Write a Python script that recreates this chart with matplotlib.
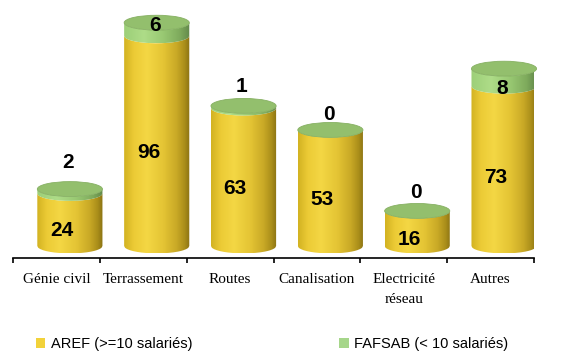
import numpy as np
import matplotlib.pyplot as plt
from matplotlib.path import Path
from matplotlib.patches import PathPatch, Ellipse, Patch
from matplotlib.colors import LinearSegmentedColormap

categories = ["Génie civil", "Terrassement", "Routes", "Canalisation",
              "Electricité\nréseau", "Autres"]
aref = [24, 96, 63, 53, 16, 73]
fafsab = [2, 6, 1, 0, 0, 8]
series_labels = ["AREF (>=10 salariés)", "FAFSAB (< 10 salariés)"]

# décalage (points) des étiquettes FAFSAB par rapport au sommet des cylindres
fafsab_dy = [19, -2, 14, 11, 13, -14]

yellow_cmap = LinearSegmentedColormap.from_list(
    "jaune", [(0, "#D2B222"), (0.15, "#ECCB36"), (0.35, "#F4D744"),
              (0.6, "#E4C434"), (0.8, "#C9A926"), (0.92, "#AA8E1A"),
              (1, "#8A7214")])
green_cmap = LinearSegmentedColormap.from_list(
    "vert", [(0, "#9CCF78"), (0.3, "#AEDC88"), (0.6, "#98C872"),
             (0.85, "#7EAA5C"), (1, "#62884A")])
cap_color = "#93BF6D"

fig = plt.figure(figsize=(5.62, 3.54), dpi=100)
ax = fig.add_axes([13 / 562, 96 / 354, 521 / 562, 248 / 354])
ax.set_xlim(0, 6)
ax.set_ylim(-5.5, 107.8)

rx = 0.375   # demi-largeur du cylindre
ry = 3.4     # demi-hauteur des ellipses
shift = 0.155
t = np.linspace(-1, 1, 80)


def side(xc, y0, y1, cmap, z):
    xs = xc + rx * t
    top = y1 - ry * np.sqrt(1 - t ** 2)
    bot = y0 - ry * np.sqrt(1 - t ** 2)
    verts = np.concatenate([np.column_stack([xs, top]),
                            np.column_stack([xs[::-1], bot[::-1]])])
    patch = PathPatch(Path(verts), facecolor="none", edgecolor="none", zorder=z)
    ax.add_patch(patch)
    grad = np.linspace(0, 1, 256).reshape(1, -1)
    im = ax.imshow(grad, cmap=cmap, extent=[xc - rx, xc + rx, y0 - ry, y1],
                   aspect="auto", origin="lower", zorder=z)
    im.set_clip_path(patch)
    im.set_clip_on(True)


for i, (a, f) in enumerate(zip(aref, fafsab)):
    xc = i + 0.5 + shift
    side(xc, 0, a, yellow_cmap, 2)
    if f > 0:
        side(xc, a, a + f, green_cmap, 2)
    cap = Ellipse((xc, a + f), 2 * rx, 2 * ry, facecolor=cap_color,
                  edgecolor="#86B062", lw=0.6, zorder=3, clip_on=False)
    ax.add_patch(cap)

    ax.annotate(str(a), (i + 0.56, a / 2), xytext=(0, -8),
                textcoords="offset points", ha="center", va="center",
                fontsize=15, fontweight="bold", family="Liberation Sans",
                zorder=5)
    ax.annotate(str(f), (xc - 0.02, a + f), xytext=(0, fafsab_dy[i]),
                textcoords="offset points", ha="center", va="center",
                fontsize=15, fontweight="bold", family="Liberation Sans",
                zorder=5)

for s in ["left", "top", "right"]:
    ax.spines[s].set_visible(False)
ax.spines["bottom"].set_linewidth(1.2)
ax.spines["bottom"].set_position(("data", -5.5))
ax.set_yticks([])
ax.set_xticks(range(7))
ax.set_xticklabels([])
ax.tick_params(axis="x", which="major", length=3.6, width=1.2, direction="out")
ax.set_xticks(np.arange(6) + 0.5, minor=True)
ax.set_xticklabels(categories, minor=True, family="Liberation Serif",
                   fontsize=11, linespacing=1.7)
ax.tick_params(axis="x", which="minor", length=0, pad=11)

handles = [Patch(facecolor="#F2D23A", edgecolor="none"),
           Patch(facecolor="#A6D68A", edgecolor="none")]
fig.legend(handles, series_labels, loc="center left",
           bbox_to_anchor=(36 / 562, 1 - 344 / 354), ncol=2, frameon=False,
           borderaxespad=0, borderpad=0, handlelength=0.65, handleheight=0.65,
           handletextpad=0.35, columnspacing=10.1,
           prop={"family": "Liberation Sans", "size": 10.5})

fig.savefig("out.png", dpi=100)
